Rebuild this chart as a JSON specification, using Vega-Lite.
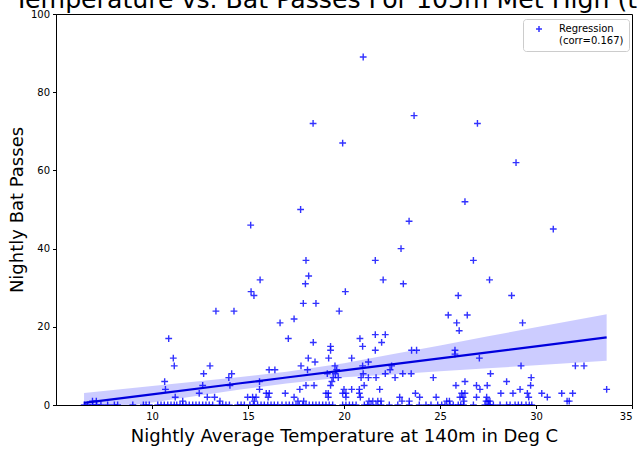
{
  "$schema": "https://vega.github.io/schema/vega-lite/v6.json",
  "width": 576,
  "height": 391,
  "autosize": {"type": "none"},
  "padding": {"left": 56, "top": 14, "right": 6, "bottom": 47},
  "background": "white",
  "config": {
    "view": {"stroke": "#000", "strokeWidth": 1},
    "font": "DejaVu Sans",
    "axis": {
      "grid": false, "tickSize": 3.5, "tickColor": "#000", "domainColor": "#000",
      "labelFontSize": 10, "labelColor": "#000", "labelFont": "DejaVu Sans", "labelPadding": 3,
      "titleFontSize": 18, "titleFontWeight": "normal", "titleColor": "#000", "titleFont": "DejaVu Sans"
    }
  },
  "title": {
    "text": "Temperature vs. Bat Passes For 105m Met High (turbine)",
    "anchor": "start", "frame": "group", "dx": -42, "dy": 24, "fontSize": 25.2, "font": "DejaVu Sans",
    "fontWeight": "normal", "color": "#000", "baseline": "alphabetic", "offset": 0
  },
  "datasets": {
    "points": [
      {"t":10.87,"p":17},{"t":11.11,"p":12},{"t":11.16,"p":10},{"t":10.66,"p":6},{"t":10.7,"p":4},{"t":13.02,"p":10},{"t":12.69,"p":8},{"t":14.15,"p":8},{"t":14.0,"p":7},{"t":14.06,"p":5},{"t":12.64,"p":5},{"t":12.46,"p":3},{"t":11.21,"p":2},{"t":12.88,"p":2},{"t":13.26,"p":2},{"t":14.98,"p":2},{"t":11.6,"p":1},{"t":13.54,"p":1},{"t":13.33,"p":24},{"t":14.27,"p":24},{"t":6.9,"p":1},{"t":7.1,"p":1},
      {"t":6.47,"p":0},{"t":6.65,"p":0},{"t":6.91,"p":0},{"t":7.12,"p":0},{"t":7.34,"p":0},{"t":7.69,"p":0},{"t":8.04,"p":0},{"t":8.21,"p":0},{"t":9.0,"p":0},{"t":9.55,"p":0},{"t":9.69,"p":0},{"t":9.86,"p":0},{"t":10.3,"p":0},{"t":10.47,"p":0},{"t":10.64,"p":0},{"t":10.82,"p":0},{"t":10.99,"p":0},{"t":11.16,"p":0},{"t":11.29,"p":0},{"t":11.46,"p":0},{"t":11.6,"p":0},{"t":11.77,"p":0},{"t":11.94,"p":0},{"t":12.12,"p":0},{"t":12.29,"p":0},{"t":12.46,"p":0},{"t":12.64,"p":0},{"t":12.81,"p":0},{"t":12.98,"p":0},{"t":13.16,"p":0},{"t":13.51,"p":0},{"t":13.68,"p":0},{"t":13.85,"p":0},{"t":14.03,"p":0},{"t":14.46,"p":0},{"t":14.64,"p":0},{"t":14.81,"p":0},
      {"t":15.14,"p":46},{"t":17.74,"p":50},{"t":18.39,"p":72},{"t":19.93,"p":67},{"t":21.0,"p":89},{"t":23.65,"p":74},{"t":22.97,"p":40},{"t":21.63,"p":37},{"t":22.04,"p":32},{"t":23.09,"p":31},{"t":20.07,"p":29},{"t":23.39,"p":47},{"t":18.02,"p":37},{"t":18.16,"p":33},{"t":15.63,"p":32},{"t":17.99,"p":31},{"t":15.16,"p":29},{"t":15.31,"p":28},{"t":17.88,"p":26},{"t":18.54,"p":26},{"t":19.75,"p":24},{"t":16.67,"p":21},{"t":17.4,"p":22},{"t":17.1,"p":17},{"t":18.4,"p":16},{"t":19.3,"p":15},{"t":19.3,"p":14},{"t":18.14,"p":12},{"t":18.49,"p":11},{"t":19.2,"p":12},{"t":17.76,"p":10},{"t":18.1,"p":9},{"t":19.53,"p":10},{"t":19.62,"p":9},{"t":20.4,"p":12},{"t":20.83,"p":17},{"t":20.97,"p":15},{"t":21.63,"p":18},{"t":22.15,"p":18},{"t":21.96,"p":16},{"t":21.63,"p":14},{"t":21.27,"p":11},{"t":20.97,"p":10},{"t":21.0,"p":8},{"t":22.48,"p":10},{"t":22.4,"p":9},{"t":23.52,"p":14},{"t":23.78,"p":14},{"t":23.5,"p":8},{"t":16.1,"p":9},{"t":16.4,"p":9},
      {"t":22.15,"p":8},{"t":22.66,"p":7},{"t":23.06,"p":8},{"t":24.65,"p":7},{"t":21.67,"p":7},{"t":21.27,"p":7},{"t":20.89,"p":7},{"t":21.05,"p":5},{"t":20.8,"p":4},{"t":21.86,"p":4},{"t":20.4,"p":4},{"t":20.0,"p":4},{"t":19.18,"p":3},{"t":19.18,"p":2},{"t":19.3,"p":5},{"t":19.37,"p":6},{"t":19.44,"p":7},{"t":19.55,"p":8},{"t":19.13,"p":8},{"t":19.7,"p":7},{"t":18.44,"p":5},{"t":18.02,"p":5},{"t":17.7,"p":4},{"t":17.4,"p":2},{"t":16.94,"p":3},{"t":15.6,"p":4},{"t":15.6,"p":6},{"t":15.95,"p":3},{"t":16.11,"p":3},{"t":16.05,"p":2},{"t":15.24,"p":2},{"t":15.42,"p":2},{"t":15.33,"p":1},{"t":17.6,"p":1},{"t":17.9,"p":1},{"t":19.06,"p":3},{"t":19.93,"p":3},{"t":20.1,"p":3},{"t":20.1,"p":2},{"t":20.8,"p":3},{"t":20.85,"p":2},{"t":22.9,"p":2},{"t":23.02,"p":1},{"t":23.72,"p":3},{"t":23.94,"p":2},{"t":23.4,"p":1},{"t":24.8,"p":2},{"t":24.53,"p":0},{"t":21.3,"p":1},{"t":21.5,"p":1},{"t":21.76,"p":1},{"t":21.93,"p":1},
      {"t":15.1,"p":0},{"t":15.28,"p":0},{"t":15.5,"p":0},{"t":15.68,"p":0},{"t":15.85,"p":0},{"t":16.03,"p":0},{"t":16.2,"p":0},{"t":16.37,"p":0},{"t":16.55,"p":0},{"t":16.77,"p":0},{"t":16.98,"p":0},{"t":17.15,"p":0},{"t":17.33,"p":0},{"t":17.5,"p":0},{"t":17.67,"p":0},{"t":17.85,"p":0},{"t":18.02,"p":0},{"t":18.19,"p":0},{"t":18.37,"p":0},{"t":18.54,"p":0},{"t":18.71,"p":0},{"t":18.89,"p":0},{"t":19.06,"p":0},{"t":19.23,"p":0},{"t":19.41,"p":0},{"t":19.93,"p":0},{"t":20.1,"p":0},{"t":20.28,"p":0},{"t":20.45,"p":0},{"t":20.63,"p":0},{"t":21.06,"p":0},{"t":21.23,"p":0},{"t":21.41,"p":0},{"t":21.67,"p":0},{"t":21.93,"p":0},{"t":22.36,"p":0},{"t":22.8,"p":0},{"t":23.4,"p":0},{"t":23.92,"p":0},{"t":24.27,"p":0},{"t":24.88,"p":0},
      {"t":26.95,"p":72},{"t":28.96,"p":62},{"t":26.3,"p":52},{"t":30.9,"p":45},{"t":26.74,"p":37},{"t":27.58,"p":32},{"t":25.95,"p":28},{"t":28.73,"p":28},{"t":25.43,"p":23},{"t":26.42,"p":23},{"t":25.87,"p":21},{"t":26.0,"p":19},{"t":29.3,"p":21},{"t":25.78,"p":14},{"t":25.78,"p":13},{"t":27.05,"p":12},{"t":29.22,"p":10},{"t":32.05,"p":10},{"t":32.5,"p":10},{"t":33.68,"p":4},{"t":27.63,"p":8},{"t":26.3,"p":6},{"t":25.83,"p":5},{"t":26.9,"p":5},{"t":27.08,"p":4},{"t":27.46,"p":5},{"t":28.47,"p":6},{"t":29.75,"p":7},{"t":29.72,"p":5},{"t":29.17,"p":4},{"t":29.55,"p":3},{"t":29.62,"p":2},{"t":28.17,"p":3},{"t":28.8,"p":3},{"t":26.13,"p":3},{"t":26.3,"p":3},{"t":26.04,"p":2},{"t":26.2,"p":2},{"t":26.25,"p":1},{"t":26.9,"p":2},{"t":27.43,"p":2},{"t":27.5,"p":1},{"t":27.6,"p":1},{"t":27.4,"p":1},{"t":30.3,"p":3},{"t":30.59,"p":2},{"t":31.34,"p":3},{"t":31.91,"p":3},{"t":31.62,"p":1},{"t":31.73,"p":1},{"t":25.35,"p":1},{"t":25.49,"p":1},
      {"t":25.09,"p":0},{"t":25.26,"p":0},{"t":25.52,"p":0},{"t":25.69,"p":0},{"t":25.95,"p":0},{"t":26.08,"p":0},{"t":26.22,"p":0},{"t":26.74,"p":0},{"t":27.34,"p":0},{"t":27.52,"p":0},{"t":27.6,"p":0},{"t":27.78,"p":0},{"t":28.13,"p":0},{"t":28.47,"p":0},{"t":28.65,"p":0},{"t":28.91,"p":0},{"t":29.08,"p":0},{"t":29.25,"p":0},{"t":29.48,"p":0},{"t":29.65,"p":0},{"t":29.78,"p":0}
    ],
    "fit": [
      {"t": 6.46, "p": 0.56, "lo": -1.94, "hi": 3.06},
      {"t": 10, "p": 2.73, "lo": 0.63, "hi": 4.83},
      {"t": 14.6, "p": 5.56, "lo": 3.96, "hi": 7.16},
      {"t": 17, "p": 7.03, "lo": 5.53, "hi": 8.53},
      {"t": 20, "p": 8.87, "lo": 7.07, "hi": 10.67},
      {"t": 22.5, "p": 10.4, "lo": 7.8, "hi": 13.0},
      {"t": 25, "p": 11.94, "lo": 8.64, "hi": 15.24},
      {"t": 27.5, "p": 13.48, "lo": 9.38, "hi": 17.58},
      {"t": 30, "p": 15.01, "lo": 10.16, "hi": 19.86},
      {"t": 33.68, "p": 17.28, "lo": 11.33, "hi": 23.23}
    ]
  },
  "encoding": {
    "x": {
      "field": "t", "type": "quantitative",
      "scale": {"domain": [5, 35], "nice": false, "zero": false},
      "axis": {"title": "Nightly Average Temperature at 140m in Deg C", "values": [10, 15, 20, 25, 30, 35], "titlePadding": 6}
    },
    "y": {
      "field": "p", "type": "quantitative",
      "scale": {"domain": [0, 100], "nice": false},
      "axis": {"title": "Nightly Bat Passes", "values": [0, 20, 40, 60, 80, 100], "titlePadding": 4}
    }
  },
  "layer": [
    {
      "data": {"name": "points"},
      "mark": {"type": "point", "shape": "M-1,0H1M0,-1V1", "filled": false, "strokeWidth": 1.4, "size": 46, "opacity": 0.8, "clip": true},
      "encoding": {
        "color": {
          "datum": "Regression", "type": "nominal",
          "scale": {"domain": ["Regression"], "range": ["#0000ff"]},
          "legend": {
            "title": null, "orient": "none", "legendX": 467, "legendY": 5,
            "labelExpr": "['Regression', '(corr=0.167)']",
            "labelFontSize": 10, "labelColor": "#000", "labelFont": "DejaVu Sans", "labelBaseline": "middle",
            "symbolType": "M-1,0H1M0,-1V1", "symbolSize": 36, "symbolStrokeWidth": 1.5,
            "symbolStrokeColor": "#2222ff", "symbolFillColor": "transparent",
            "strokeColor": "#cccccc", "fillColor": "white", "cornerRadius": 3,
            "padding": 5, "symbolOffset": 6, "labelOffset": 15
          }
        }
      }
    },
    {
      "data": {"name": "fit"},
      "mark": {"type": "area", "color": "#0000ff", "opacity": 0.2, "clip": true},
      "encoding": {"y": {"field": "lo", "type": "quantitative"}, "y2": {"field": "hi"}}
    },
    {
      "data": {"name": "fit"},
      "mark": {"type": "line", "color": "#0000dd", "strokeWidth": 2.2, "clip": true},
      "encoding": {}
    }
  ]
}
